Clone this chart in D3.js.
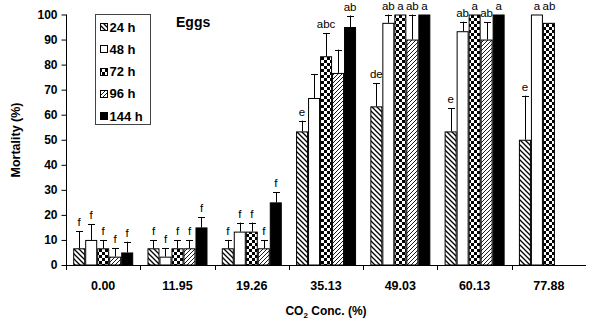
<!DOCTYPE html>
<html><head><meta charset="utf-8">
<script src="https://cdn.jsdelivr.net/npm/d3@7"></script>
<style>
body{margin:0;background:#fff;}
svg{display:block;font-family:Arial,"Liberation Sans",sans-serif;}
</style></head>
<body><svg id="c" width="589" height="325"></svg>
<script>
const categories = ["0.00","11.95","19.26","35.13","49.03","60.13","77.88"];
const seriesNames = ["24 h","48 h","72 h","96 h","144 h"];
const values = [
  [6.67, 10, 6.67, 3.33, 5],
  [6.67, 3.33, 6.67, 6.67, 15],
  [6.67, 13.33, 13.33, 6.67, 25],
  [53.33, 66.67, 83.33, 76.67, 95],
  [63.33, 96.67, 100, 90, 100],
  [53.33, 93.33, 100, 90, 100],
  [50, 100, 96.67, null, null]
];
const errors = [
  [6.9, 6.3, 3.33, 3.33, 4.3],
  [3.33, 3.33, 3.33, 3.33, 4],
  [3.33, 3.6, 3.6, 3.33, 4],
  [4.3, 9.6, 9.3, 9.3, 4.6],
  [9.3, 3.33, 0, 10, 0],
  [9.3, 3.8, 0, 7, 0],
  [17.6, 0, 0, 0, 0]
];
const letters = [
  ["f","f","f","f","f"],
  ["f","f","f","f","f"],
  ["f","f","f","f","f"],
  ["e","","abc","","ab"],
  ["de","ab","a","ab","a"],
  ["e","ab","a","ab","a"],
  ["e","a","ab","",""]
];
const yTicks = [0,10,20,30,40,50,60,70,80,90,100];
const fills = ["url(#p24)","#fff","url(#p72)","url(#p96)","#000"];

const svg = d3.select("#c");
const defs = svg.append("defs");
// 24 h: "\" hatch
const p24 = defs.append("pattern").attr("id","p24").attr("patternUnits","userSpaceOnUse").attr("width",5).attr("height",5);
p24.append("rect").attr("width",5).attr("height",5).attr("fill","#fff");
p24.append("path").attr("d","M-1,-1L6,6M-1,4L1,6M4,-1L6,1").attr("stroke","#000").attr("stroke-width",1.3);
// 96 h: "/" hatch
const p96 = defs.append("pattern").attr("id","p96").attr("patternUnits","userSpaceOnUse").attr("width",4).attr("height",4);
p96.append("rect").attr("width",4).attr("height",4).attr("fill","#fff");
p96.append("path").attr("d","M-1,5L5,-1M-1,1L1,-1M3,5L5,3").attr("stroke","#000").attr("stroke-width",0.9);
// 72 h: checker
const p72 = defs.append("pattern").attr("id","p72").attr("patternUnits","userSpaceOnUse").attr("width",6).attr("height",6);
p72.append("rect").attr("width",6).attr("height",6).attr("fill","#fff");
p72.append("rect").attr("width",3).attr("height",3).attr("fill","#000");
p72.append("rect").attr("x",3).attr("y",3).attr("width",3).attr("height",3).attr("fill","#000");

const x0 = d3.scaleBand().domain(categories).range([66,586]).paddingInner(0).paddingOuter(0);
const x1 = d3.scaleBand().domain(d3.range(5)).range([7.2, 67.2]);
const y = d3.scaleLinear().domain([0,100]).range([265,14.5]);

// bars
const g = svg.append("g");
categories.forEach((c,i)=>{
  const gx = x0(c);
  values[i].forEach((v,j)=>{
    if(v==null) return;
    const bx = gx + x1(j);
    const bw = x1.bandwidth();
    g.append("rect").attr("x",bx+0.5).attr("y",y(v)+0.5).attr("width",bw-1).attr("height",y(0)-y(v)-0.5)
      .attr("fill",fills[j]).attr("stroke","#000").attr("stroke-width",1);
    const e = errors[i][j];
    const cx = Math.round(bx + bw/2)+0.5;
    let top;
    if(e>0){
      top = y(v+e);
      g.append("line").attr("x1",cx).attr("x2",cx).attr("y1",y(v)).attr("y2",top).attr("stroke","#000");
      g.append("line").attr("x1",cx-3.5).attr("x2",cx+3.5).attr("y1",Math.round(top)+0.5).attr("y2",Math.round(top)+0.5).attr("stroke","#000");
    } else {
      top = y(100);
    }
    if(letters[i][j]){
      g.append("text").attr("x",bx+bw/2).attr("y",Math.max(top-5,9.5)).attr("text-anchor","middle")
        .attr("font-size",11.5).text(letters[i][j]);
    }
  });
});

// y axis
const ya = svg.append("g").attr("transform","translate(66.5,0)")
  .call(d3.axisLeft(y).tickValues(yTicks).tickSize(5).tickPadding(4).tickFormat(d3.format("d")));
ya.select(".domain").attr("d","M0,"+y(100)+"V"+y(0));
ya.selectAll("text").attr("font-size",12).attr("font-weight","bold").attr("font-family","Arial,'Liberation Sans',sans-serif").attr("fill","#000");

// x axis
const xa = svg.append("g").attr("transform","translate(0,265.5)");
xa.append("line").attr("x1",62).attr("x2",586).attr("stroke","#000");
categories.forEach((c,i)=>{
  const tx = Math.round(x0(c))+0.5;
  xa.append("line").attr("x1",tx).attr("x2",tx).attr("y1",0).attr("y2",4.5).attr("stroke","#000");
  xa.append("text").attr("x",x0(c)+x0.bandwidth()/2).attr("y",24.5).attr("text-anchor","middle")
    .attr("font-size",12.5).attr("font-weight","bold").text(c);
});

// titles
const xt = svg.append("text").attr("x",326).attr("y",315).attr("text-anchor","middle")
  .attr("font-size",12).attr("font-weight","bold");
xt.append("tspan").text("CO");
xt.append("tspan").attr("font-size",8).attr("dy",3).text("2");
xt.append("tspan").attr("dy",-3).text(" Conc. (%)");
svg.append("text").attr("transform","translate(20,140)rotate(-90)").attr("text-anchor","middle")
  .attr("font-size",12.5).attr("font-weight","bold").text("Mortality (%)");
svg.append("text").attr("x",176).attr("y",27).attr("font-size",14).attr("font-weight","bold").text("Eggs");

// legend
const lg = svg.append("g");
lg.append("rect").attr("x",95.5).attr("y",14.5).attr("width",55).attr("height",110).attr("fill","#fff").attr("stroke","#444");
seriesNames.forEach((s,j)=>{
  const ly = 27 + j*22.3;
  lg.append("rect").attr("x",100.5).attr("y",Math.round(ly-4)+0.5).attr("width",7).attr("height",7)
    .attr("fill",fills[j]).attr("stroke","#000");
  lg.append("text").attr("x",109.5).attr("y",ly+4.5).attr("font-size",13).attr("font-weight","bold").text(s);
});
</script></body></html>
